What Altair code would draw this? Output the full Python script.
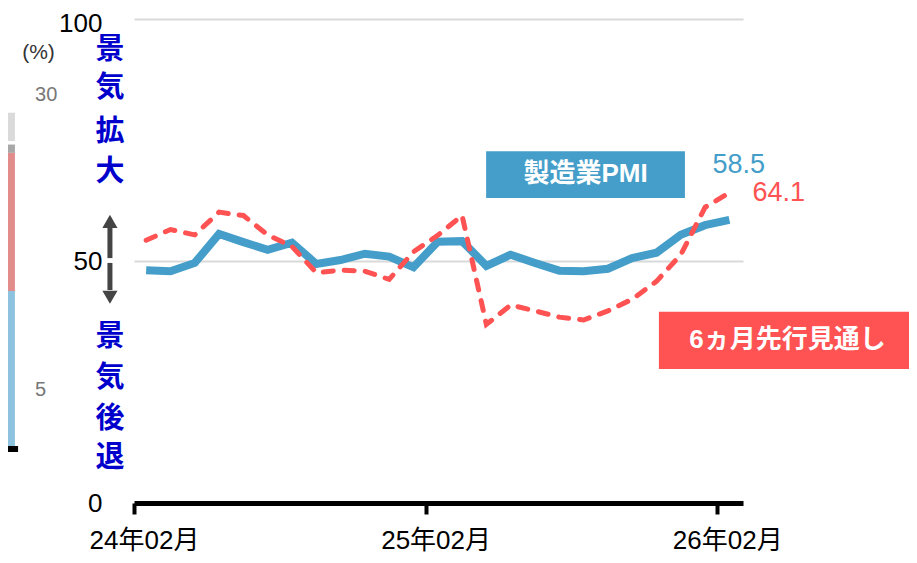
import altair as alt
import pandas as pd

FONT = "Liberation Sans, Noto Sans CJK JP"
BLUE = "#449ec9"
RED = "#ff5252"
TEXT_BLUE = "#0000cc"

# ---- data ----
months = ["2024-02", "2024-03", "2024-04", "2024-05", "2024-06", "2024-07", "2024-08",
          "2024-09", "2024-10", "2024-11", "2024-12", "2025-01", "2025-02", "2025-03",
          "2025-04", "2025-05", "2025-06", "2025-07", "2025-08", "2025-09", "2025-10",
          "2025-11", "2025-12", "2026-01", "2026-02"]
pmi = [48.1, 47.9, 49.6, 55.6, 53.9, 52.3, 53.8, 49.4, 50.2, 51.5, 50.9, 48.7, 54.0,
       54.1, 49.0, 51.3, 49.6, 48.0, 47.9, 48.4, 50.6, 51.7, 55.4, 57.4, 58.5]
outlook = [54.3, 56.5, 55.4, 60.1, 59.4, 55.4, 53.0, 47.6, 48.1, 47.9, 46.2, 51.9, 55.3,
           59.4, 36.9, 40.9, 39.7, 38.4, 37.8, 39.7, 42.1, 45.8, 51.3, 61.1, 64.1]
series_names = ["製造業PMI", "6ヵ月先行見通し"]
tick_months = [0, 12, 24]
tick_labels = ["24年02月", "25年02月", "26年02月"]
y_ticks = [0, 50, 100]

# annotation text
up_chars = ["景", "気", "拡", "大"]
down_chars = ["景", "気", "後", "退"]

# neighbouring (cropped) chart fragment on the left edge
frag_bottom = [0, 13.4, 25.1, 26.1]
frag_top = [13.4, 25.1, 25.8, 28.5]
frag_colors = ["#8dc3de", "#e28c8c", "#a8a8a8", "#dadada"]
frag_unit = "(%)"
frag_ticks = ["30", "5"]

# ---- tables ----
X_DOMAIN = [0, 25.06]
xs = [i + 0.5 for i in range(len(months))]
lines = pd.DataFrame({
    "x": xs * 2,
    "value": pmi + outlook,
    "series": [series_names[0]] * len(xs) + [series_names[1]] * len(xs),
})
last = pd.DataFrame({"x": [xs[-1], xs[-1]], "value": [pmi[-1], outlook[-1]],
                     "label": [f"{pmi[-1]:.1f}", f"{outlook[-1]:.1f}"]})

vert = pd.DataFrame({
    "t": up_chars + down_chars,
    "x": [-0.99] * 8,
    "value": [93.6, 85.7, 76.7, 68.4, 34.3, 25.8, 17.4, 9.3],
})
shafts = pd.DataFrame({"x": [-0.99, -0.99], "value": [50.6, 49.6], "value2": [57.2, 44.0]})
heads = pd.DataFrame({"x": [-0.99, -0.99], "value": [58.2, 42.5],
                      "shape": ["triangle-up", "triangle-down"]})
boxes = pd.DataFrame({
    "x": [14.49, 21.6], "x2": [22.67, 32.18],
    "value": [63.0, 27.7], "value2": [72.7, 39.5],
    "label": series_names, "color": [BLUE, RED],
})
box_labels = pd.DataFrame({"x": [18.58, 26.89], "value": [67.9, 33.6], "label": series_names})

frag = pd.DataFrame({"x": [-5.6] * 4, "x2": [-4.9] * 4,
                     "value": frag_bottom, "value2": frag_top, "color": frag_colors})
frag_base = pd.DataFrame({"x": [-5.6], "x2": [-4.77], "value": [0]})
frag_unit_df = pd.DataFrame({"t": [frag_unit], "x": [-3.93], "value": [33.6]})
frag_tick_df = pd.DataFrame({"t": frag_ticks, "x": [-4.07, -4.07], "value": [30, 5]})

# ---- encodings ----
label_expr = str(tick_labels).replace("'", '"') + "[round(datum.value / 12)]"
X_AXIS = alt.Axis(values=tick_months, labelExpr=label_expr, grid=False,
                  domainColor="black", domainWidth=5, domainCap="butt",
                  tickColor="black", tickWidth=4, tickSize=11,
                  labelFont=FONT, labelFontSize=26, labelColor="black",
                  labelPadding=13, labelOffset=10, labelAngle=0, labelFlush=False)
Y_AXIS = alt.Axis(values=y_ticks, format="d", grid=True, gridColor="#d9d9d9",
                  gridWidth=2, domain=False, ticks=False, labelPadding=32,
                  labelOffset={"condition": {"test": "datum.value == 100", "value": 4},
                               "value": 0},
                  labelFont=FONT, labelFontSize=26, labelColor="black")
x_scale = alt.Scale(domain=X_DOMAIN, nice=False, zero=False)
y_scale = alt.Scale(domain=[0, 100], nice=False, zero=False)
x_enc = alt.X("x:Q", title=None, scale=x_scale, axis=X_AXIS)
y_enc = alt.Y("value:Q", title=None, scale=y_scale, axis=Y_AXIS)

base_lines = alt.Chart(lines).encode(x=x_enc, y=y_enc)
blue_line = base_lines.transform_filter(alt.datum.series == series_names[0]).mark_line(
    color=BLUE, strokeWidth=8)
red_line = base_lines.transform_filter(alt.datum.series == series_names[1]).mark_line(
    color=RED, strokeWidth=5, strokeDash=[10, 11], strokeCap="round")

blue_lbl = alt.Chart(last.iloc[[0]]).mark_text(
    align="left", baseline="middle", dx=-17, dy=-55, font=FONT, fontSize=27, color=BLUE
).encode(x=x_enc, y=y_enc, text="label:N")
red_lbl = alt.Chart(last.iloc[[1]]).mark_text(
    align="left", baseline="middle", dx=23, dy=0, font=FONT, fontSize=27, color=RED
).encode(x=x_enc, y=y_enc, text="label:N")

box_rect = alt.Chart(boxes).mark_rect().encode(
    x=x_enc, x2="x2:Q", y=y_enc, y2="value2:Q",
    color=alt.Color("color:N", scale=None))
box_text = alt.Chart(box_labels).mark_text(
    align="center", baseline="middle", font=FONT, fontSize=26, fontWeight="bold",
    color="white"
).encode(x=x_enc, y=y_enc, text="label:N")

vert_text = alt.Chart(vert).mark_text(
    align="center", baseline="middle", font=FONT, fontSize=29, fontWeight="bold",
    color=TEXT_BLUE
).encode(x=x_enc, y=y_enc, text="t:N")
shaft = alt.Chart(shafts).mark_rule(color="#444444", strokeWidth=5).encode(
    x=x_enc, y=y_enc, y2="value2:Q")
head = alt.Chart(heads).mark_point(filled=True, size=230, color="#444444", opacity=1).encode(
    x=x_enc, y=y_enc, shape=alt.Shape("shape:N", scale=None))

main = alt.layer(box_rect, box_text, blue_line, red_line, blue_lbl, red_lbl,
                 vert_text, shaft, head)

# neighbouring chart fragment with its own vertical scale
fy = alt.Scale(domain=[-4.576, 36.44], nice=False, zero=False)
fyy = alt.Y("value:Q", scale=fy, axis=None)
frag_bars = alt.Chart(frag).mark_rect().encode(
    x=x_enc, x2="x2:Q", y=fyy, y2="value2:Q", color=alt.Color("color:N", scale=None))
frag_line = alt.Chart(frag_base).mark_rule(color="black", strokeWidth=6).encode(
    x=x_enc, x2="x2:Q", y=fyy)
frag_u = alt.Chart(frag_unit_df).mark_text(
    align="center", baseline="middle", font=FONT, fontSize=21, color="#333333"
).encode(x=x_enc, y=fyy, text="t:N")
frag_t = alt.Chart(frag_tick_df).mark_text(
    align="left", baseline="middle", font=FONT, fontSize=20, color="#777777"
).encode(x=x_enc, y=fyy, text="t:N")
fragment = alt.layer(frag_bars, frag_line, frag_u, frag_t)

chart = alt.layer(fragment, main).resolve_scale(y="independent").properties(
    width=609, height=484,
    autosize=alt.AutoSizeParams(type="none"),
    padding={"left": 126, "top": 11, "right": 166, "bottom": 52},
).configure_view(strokeWidth=0)

chart.save("out.html", embed_options={"renderer": "svg", "actions": False})
